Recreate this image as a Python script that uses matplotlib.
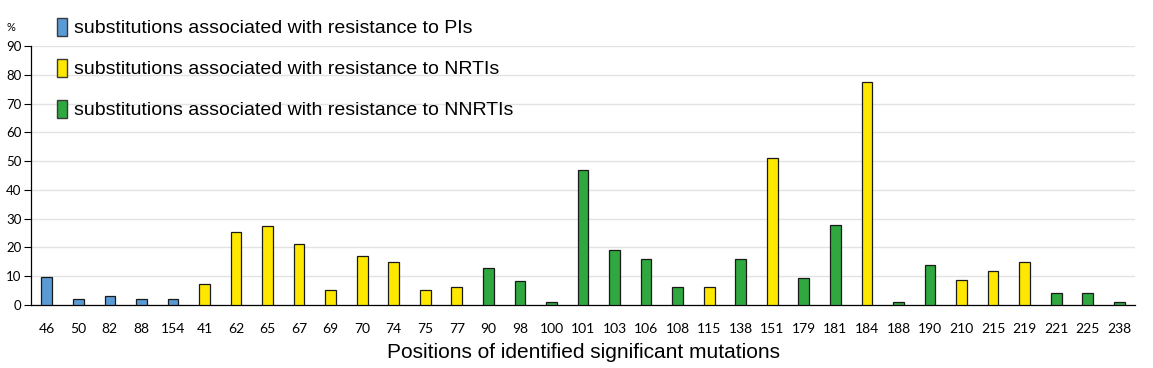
import matplotlib.pyplot as plt
from matplotlib.patches import Patch
import numpy as np

positions = ["46", "50", "82", "88", "154", "41", "62", "65", "67", "69", "70", "74",
             "75", "77", "90", "98", "100", "101", "103", "106", "108", "115", "138",
             "151", "179", "181", "184", "188", "190", "210", "215", "219", "221",
             "225", "238"]
values = [9.6, 2.1, 3.2, 2.1, 2.1, 7.4, 25.5, 27.6, 21.2, 5.2, 16.9, 14.8,
          5.2, 6.4, 12.7, 8.4, 0.9, 46.8, 19.1, 15.9, 6.4, 6.4, 15.9,
          51.0, 9.5, 27.7, 77.6, 0.9, 13.8, 8.6, 11.7, 14.9, 4.3,
          4.3, 0.9]
# drug class per position
groups = ["PI", "PI", "PI", "PI", "PI",
          "NRTI", "NRTI", "NRTI", "NRTI", "NRTI", "NRTI", "NRTI", "NRTI", "NRTI",
          "NNRTI", "NNRTI", "NNRTI", "NNRTI", "NNRTI", "NNRTI", "NNRTI",
          "NRTI", "NNRTI", "NRTI", "NNRTI", "NNRTI", "NRTI", "NNRTI", "NNRTI",
          "NRTI", "NRTI", "NRTI", "NNRTI", "NNRTI", "NNRTI"]
legend_labels = {
    "PI": "substitutions associated with resistance to PIs",
    "NRTI": "substitutions associated with resistance to NRTIs",
    "NNRTI": "substitutions associated with resistance to NNRTIs",
}
colors = {"PI": "#5b9bd5", "NRTI": "#ffe800", "NNRTI": "#2fa83f"}

fig = plt.figure(figsize=(11.53, 3.68), dpi=100)
ax = fig.add_axes([0.0269, 0.1712, 0.9575, 0.7038])

x = np.arange(len(positions))
ax.bar(x, values, width=0.34, color=[colors[g] for g in groups],
       edgecolor="#1a1a1a", linewidth=0.9, zorder=3)

ax.set_xlim(-0.5, len(positions) - 0.5)
ax.set_ylim(0, 90)
ax.set_yticks(np.arange(0, 91, 10))
ax.yaxis.grid(True, color="#e3e3e3", linewidth=1.0, zorder=0)
ax.set_xticks(x)
ax.set_xticklabels(positions, fontsize=10, family="Lato")
for lab in ax.get_yticklabels():
    lab.set_family("Lato")
ax.tick_params(axis="y", labelsize=9.5, length=5, width=0.8, pad=2)
ax.tick_params(axis="x", length=0, pad=13)
for s in ["top", "right"]:
    ax.spines[s].set_visible(False)
ax.spines["left"].set_linewidth(0.9)
ax.spines["bottom"].set_linewidth(0.9)

ax.set_xlabel("Positions of identified significant mutations",
              fontsize=15, family="Liberation Sans", labelpad=6)
fig.text(0.006, 0.915, "%", fontsize=8, family="Lato")

handles = [Patch(facecolor=colors[k], edgecolor="#3a3a3a", linewidth=1.0,
                 label=legend_labels[k]) for k in ["PI", "NRTI", "NNRTI"]]
fig.legend(handles=handles, loc="upper left", bbox_to_anchor=(0.033, 1.005),
           frameon=False, prop={"family": "Liberation Sans", "size": 14},
           handlelength=0.5, handleheight=1.05, handletextpad=0.35,
           labelspacing=1.1, borderpad=0.5)

fig.savefig("out.png", dpi=100)
